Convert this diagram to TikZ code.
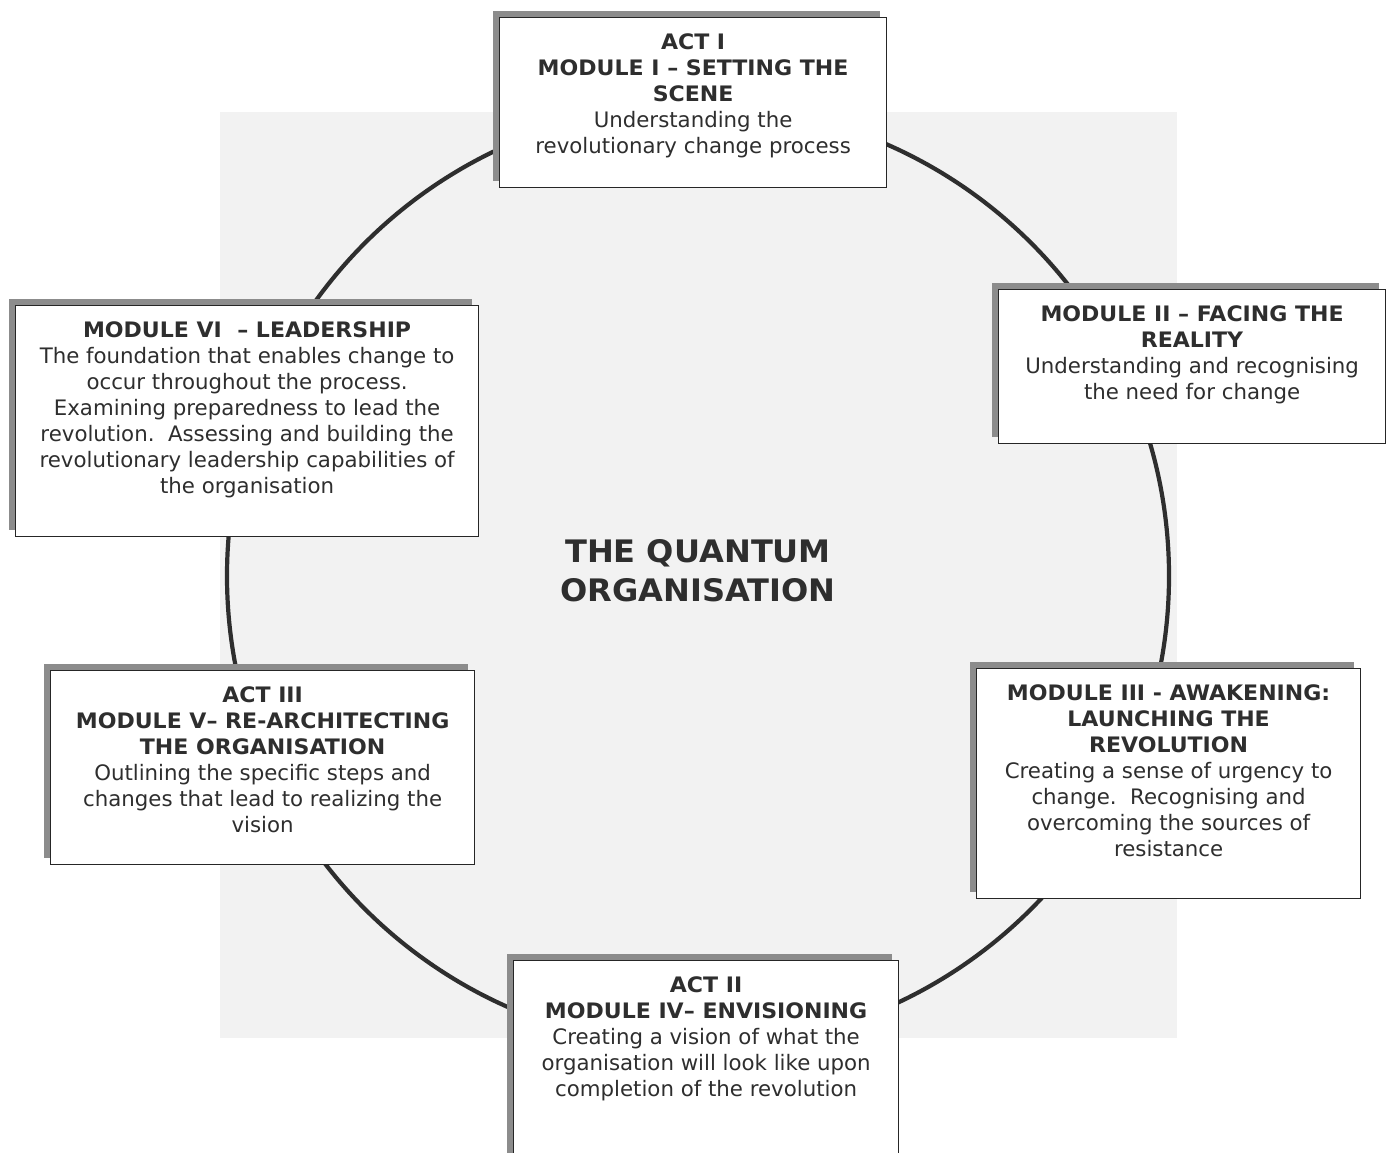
\documentclass[tikz,border=0pt]{standalone}
\usepackage{fontspec}
\setmainfont[BoldFeatures={FakeStretch=1.035}]{DejaVu Sans}
\usetikzlibrary{shadows}

% text of a module box, top aligned inside a box of given outer size
\newcommand{\modtext}[3]{\parbox[t][\dimexpr#2-28pt\relax][t]{\dimexpr#1-8pt\relax}{\centering\strut #3}}

\begin{document}
\begin{tikzpicture}[
            x=1pt, y=-1pt,
            ring/.style={line width=4.2pt, draw=black!82}, % the cycle behind the boxes
            modbox/.style={draw=black!85, line width=1.2pt, fill=white, anchor=north west,
                inner xsep=4pt, inner ysep=14pt, text=black!82,
                font=\fontsize{21.3}{26}\selectfont,
                general shadow={fill=black!45, shadow xshift=-7pt, shadow yshift=7pt}}, % grey edge top and left
            hubtext/.style={align=center, text=black!82, font=\bfseries\fontsize{31}{39}\selectfont}
            ]

    % page and light backdrop
    \useasboundingbox[fill=white] (0,0) rectangle (1391,1152);
    \fill[black!5] (220,112) rectangle (1177,1038);

    % centre of the cycle
    \coordinate (hub) at (698,576);
    \draw[ring] (hub) circle[radius=471];
    \node[hubtext] (title) at (698,571) {THE QUANTUM\\ORGANISATION};

    % the six modules, clockwise from the top
    \node[modbox] (m1) at (499,17) {\modtext{387pt}{170pt}{\textbf{ACT I}\\
        \textbf{MODULE I -- SETTING THE}\\ \textbf{SCENE}\\
        Understanding the\\ revolutionary change process}};
    \node[modbox] (m2) at (998,289) {\modtext{387pt}{154pt}{\textbf{MODULE II -- FACING THE}\\
        \textbf{REALITY}\\
        Understanding and recognising\\ the need for change}};
    \node[modbox] (m3) at (976,668) {\modtext{384pt}{230pt}{\textbf{MODULE III - AWAKENING:}\\
        \textbf{LAUNCHING THE}\\ \textbf{REVOLUTION}\\
        Creating a sense of urgency to\\ change.\ \ Recognising and\\
        overcoming the sources of\\ resistance}};
    \node[modbox] (m4) at (513,960) {\modtext{385pt}{215pt}{\textbf{ACT II}\\
        \textbf{MODULE IV-- ENVISIONING}\\
        Creating a vision of what the\\ organisation will look like upon\\
        completion of the revolution}};
    \node[modbox] (m5) at (50,670) {\modtext{424pt}{194pt}{\textbf{ACT III}\\
        \textbf{MODULE V-- RE-ARCHITECTING}\\ \textbf{THE ORGANISATION}\\
        Outlining the specific steps and\\ changes that lead to realizing the\\ vision}};
    \node[modbox] (m6) at (15,305) {\modtext{463pt}{231pt}{\textbf{MODULE VI\ \ -- LEADERSHIP}\\
        The foundation that enables change to\\ occur throughout the process.\\
        Examining preparedness to lead the\\ revolution.\ \ Assessing and building the\\
        revolutionary leadership capabilities of\\ the organisation}};

\end{tikzpicture}
\end{document}
